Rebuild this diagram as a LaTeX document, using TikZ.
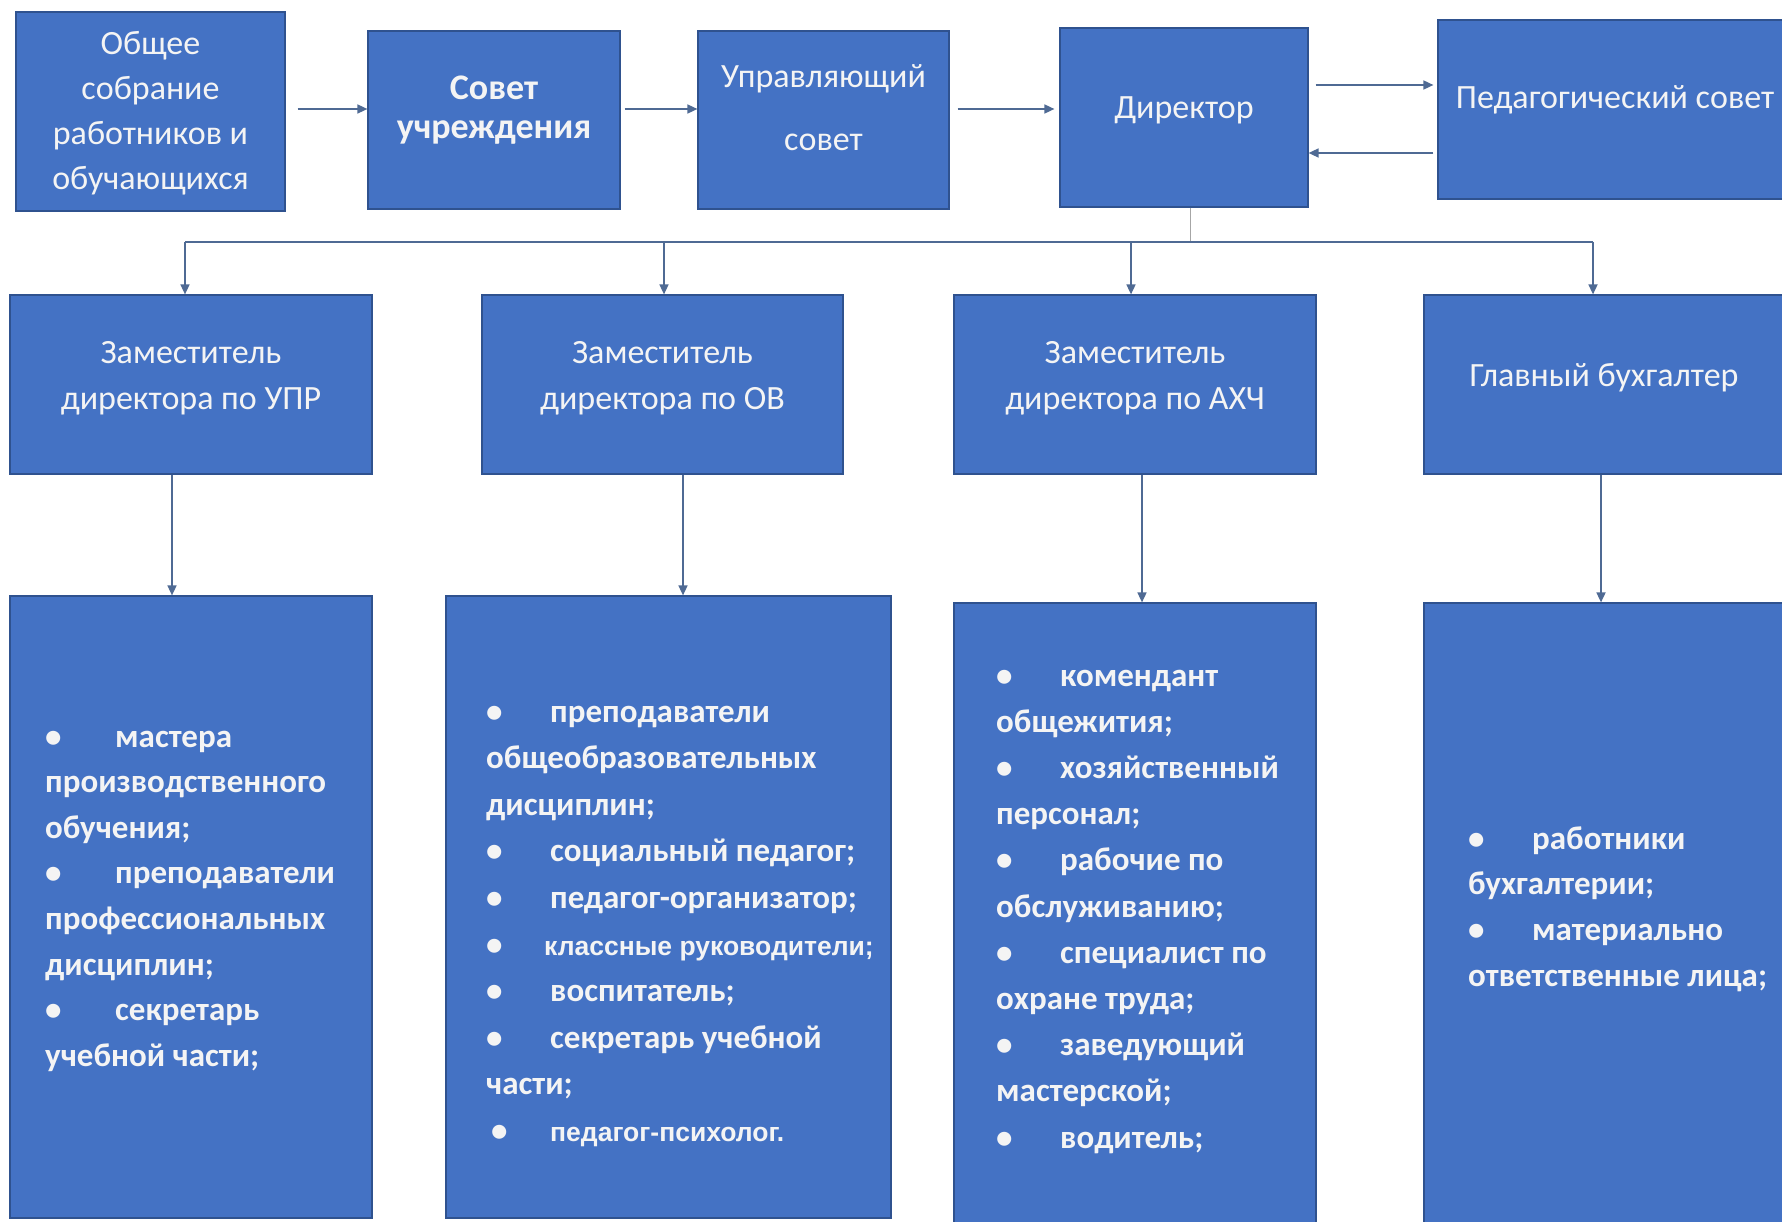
\documentclass[tikz,border=0pt]{standalone}
\usepackage{fontspec}
\setmainfont{Carlito}
\newfontfamily\libsans{Liberation Sans}
\usetikzlibrary{arrows.meta}
\definecolor{boxblue}{HTML}{4472C4}
\definecolor{boxedge}{HTML}{2F528F}
\definecolor{conn}{HTML}{4F6A94}
\definecolor{txt}{HTML}{F4F4F4}
\newcommand{\clines}[2]{\vtop{\baselineskip=#1\lineskiplimit=-1000pt\halign{\hfil##\hfil\cr#2\crcr}}}
\newcommand{\llines}[2]{\vtop{\baselineskip=#1\lineskiplimit=-1000pt\halign{##\hfil\cr#2\crcr}}}
\newcommand{\bitem}[2][64pt]{\makebox[#1][l]{•}#2}
\newcommand{\smallbold}{\libsans\fontsize{26.5}{30}\selectfont\bfseries}
\tikzset{
  box/.style={draw=boxedge, line width=1.2pt, fill=boxblue, inner sep=0pt},
  lbl/.style={text=txt, inner sep=0pt, anchor=base, font=\fontsize{34}{45}\selectfont},
  lst/.style={text=txt, inner sep=0pt, anchor=base west, font=\fontsize{33}{45}\selectfont\bfseries},
  arr/.style={draw=conn, line width=1.6pt, -{Triangle[length=10pt,width=9pt]}},
  bus/.style={draw=conn, line width=1.6pt}
}
\begin{document}
\begin{tikzpicture}[x=1pt,y=-1pt]
\useasboundingbox[fill=white] (0,0) rectangle (1782,1222);
% top row
\node[box, minimum width=269pt, minimum height=199pt] (B1) at (150.5,111.5) {};
\node[box, minimum width=252pt, minimum height=178pt] (B2) at (494,120) {};
\node[box, minimum width=251pt, minimum height=178pt] (B3) at (823.5,120) {};
\node[box, minimum width=248pt, minimum height=179pt] (B4) at (1184,117.5) {};
\node[box, minimum width=354pt, minimum height=179pt] (B5) at (1615,109.5) {};
\node[lbl] (T1) at (150.5,55) {\clines{45pt}{Общее\cr собрание\cr работников и\cr обучающихся}};
\node[lbl, font=\fontsize{36}{40}\selectfont\bfseries] (T2) at (494,100) {\clines{39pt}{Совет\cr учреждения}};
\node[lbl] (T3) at (823.5,88) {\clines{63pt}{Управляющий\cr совет}};
\node[lbl] (T4) at (1184,119) {Директор};
\node[lbl] (T5) at (1615,109) {Педагогический совет};
% second row
\node[box, minimum width=362pt, minimum height=179pt] (Z1) at (191,384.5) {};
\node[box, minimum width=361pt, minimum height=179pt] (Z2) at (662.5,384.5) {};
\node[box, minimum width=362pt, minimum height=179pt] (Z3) at (1135,384.5) {};
\node[box, minimum width=360pt, minimum height=179pt] (Z4) at (1604,384.5) {};
\node[lbl] (U1) at (191,363) {\clines{46pt}{Заместитель\cr директора по УПР}};
\node[lbl] (U2) at (662.5,363) {\clines{46pt}{Заместитель\cr директора по ОВ}};
\node[lbl] (U3) at (1135,363) {\clines{46pt}{Заместитель\cr директора по АХЧ}};
\node[lbl] (U4) at (1604,386) {Главный бухгалтер};
% third row
\node[box, minimum width=362pt, minimum height=622pt] (L1) at (191,907) {};
\node[box, minimum width=445pt, minimum height=622pt] (L2) at (668.5,907) {};
\node[box, minimum width=362pt, minimum height=629pt] (L3) at (1135,917.5) {};
\node[box, minimum width=360pt, minimum height=629pt] (L4) at (1604,917.5) {};
\node[lst] (S1) at (45,747) {\llines{45.6pt}{\bitem[70pt]{мастера}\cr производственного\cr обучения;\cr \bitem[70pt]{преподаватели}\cr профессиональных\cr дисциплин;\cr \bitem[70pt]{секретарь}\cr учебной части;}};
\node[lst] (S2) at (486,722) {\llines{46.6pt}{\bitem{преподаватели}\cr общеобразовательных\cr дисциплин;\cr \bitem{социальный педагог;}\cr \bitem{педагог-организатор;}\cr \bitem[58pt]{{\smallbold классные руководители;}}\cr \bitem{воспитатель;}\cr \bitem{секретарь учебной}\cr части;\cr \hspace*{5pt}\bitem[59pt]{{\smallbold педагог-психолог.}}}};
\node[lst] (S3) at (996,686) {\llines{46.2pt}{\bitem{комендант}\cr общежития;\cr \bitem{хозяйственный}\cr персонал;\cr \bitem{рабочие по}\cr обслуживанию;\cr \bitem{специалист по}\cr охране труда;\cr \bitem{заведующий}\cr мастерской;\cr \bitem{водитель;}}};
\node[lst] (S4) at (1468,849) {\llines{45.7pt}{\bitem{работники}\cr бухгалтерии;\cr \bitem{материально}\cr ответственные лица;}};
% connectors, top row
\coordinate (r1) at (0,109);
\coordinate (r2) at (0,85);
\coordinate (r3) at (0,153);
\draw[arr, shorten <=12pt] (B1.east |- r1) -- (B2.west |- r1);
\draw[arr, shorten <=4pt] (B2.east |- r1) -- (B3.west |- r1);
\draw[arr, shorten <=8pt, shorten >=5pt] (B3.east |- r1) -- (B4.west |- r1);
\draw[arr, shorten <=7pt, shorten >=4pt] (B4.east |- r2) -- (B5.west |- r2);
\draw[arr, shorten <=4pt] (B5.west |- r3) -- (B4.east |- r3);
% bus
\coordinate (ds) at (1190,242);
\coordinate (k1) at (185,242);
\coordinate (k2) at (664,242);
\coordinate (k3) at (1131,242);
\coordinate (k4) at (1593,242);
\draw[draw=gray!70, line width=1pt] (B4.south -| ds) -- (ds);
\draw[bus] (k1) -- (k4);
\draw[arr] (k1) -- (Z1.north -| k1);
\draw[arr] (k2) -- (Z2.north -| k2);
\draw[arr] (k3) -- (Z3.north -| k3);
\draw[arr] (k4) -- (Z4.north -| k4);
% second to third row
\coordinate (m1) at (172,0);
\coordinate (m2) at (683,0);
\coordinate (m3) at (1142,0);
\coordinate (m4) at (1601,0);
\draw[arr] (Z1.south -| m1) -- (L1.north -| m1);
\draw[arr] (Z2.south -| m2) -- (L2.north -| m2);
\draw[arr] (Z3.south -| m3) -- (L3.north -| m3);
\draw[arr] (Z4.south -| m4) -- (L4.north -| m4);
\end{tikzpicture}
\end{document}
